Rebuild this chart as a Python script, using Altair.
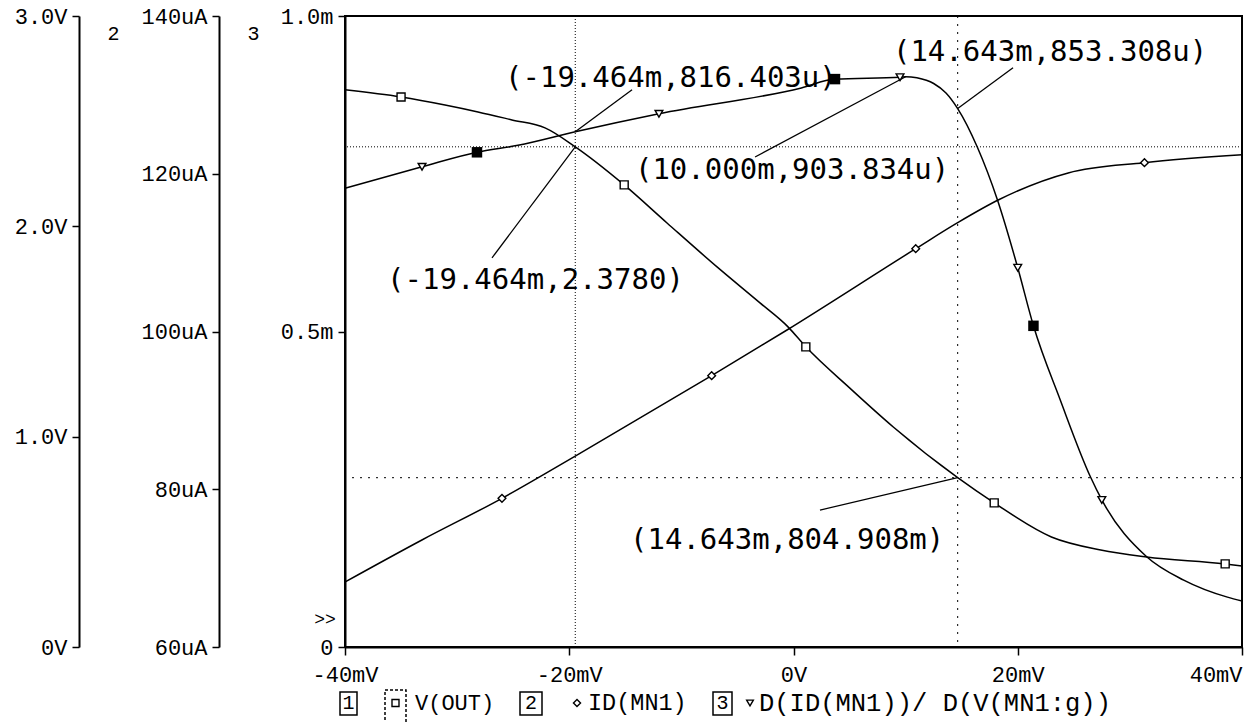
import altair as alt
import pandas as pd

# ---- sweep (gate voltage, mV) and the three traces ----
vout_x = [-40, -35.0, -31.08, -28.14, -25.11, -22.16, -19.464, -15.1, -11.28, -6.82, -2.99,
          -0.49, 1.1, 5.0, 8.9, 14.643, 17.9, 23.0, 27.4, 31.5, 38.5, 40]
vout_y = [2.649, 2.615, 2.577, 2.544, 2.506, 2.468, 2.378, 2.197, 2.016, 1.807, 1.636,
          1.522, 1.427, 1.232, 1.046, 0.8049, 0.685, 0.523, 0.461, 0.428, 0.395, 0.385]

id_x = [-40, -33.1, -26.0, -19.464, -7.3, -0.58, 10.9, 14.643, 18.3, 24.5, 31.3, 40]
id_y = [68.24, 73.6, 78.85, 84.2, 94.4, 100.19, 110.5, 113.8, 116.7, 120.1, 121.4, 122.4]

gm_x = [-40, -33.13, -28.23, -24.57, -19.464, -12.0, 0.7, 3.7, 9.5, 10.0, 11.0, 12.5, 13.6,
        14.643, 16.4, 18.2, 20.0, 21.4, 23.8, 26.5, 27.5, 31.5, 34.8, 38.7, 40]
gm_y = [0.727, 0.761, 0.784, 0.795, 0.8164, 0.845, 0.886, 0.900, 0.903, 0.9038, 0.902, 0.893,
        0.878, 0.8533, 0.792, 0.708, 0.601, 0.509, 0.391, 0.269, 0.233, 0.143, 0.106, 0.079, 0.073]

# trace symbols
vout_mk_x = [-35.0, -15.1, 1.1, 17.9, 38.5]
vout_mk_y = [2.615, 2.197, 1.427, 0.685, 0.395]
id_mk_x = [-26.0, -7.3, 10.9, 31.3]
id_mk_y = [78.85, 94.4, 110.5, 121.4]
gm_tri_x = [-33.13, -12.0, 9.5, 20.0, 27.5]
gm_tri_y = [0.761, 0.845, 0.903, 0.601, 0.233]
gm_sq_x = [-28.23, 3.7, 21.4]
gm_sq_y = [0.784, 0.900, 0.509]

# cursors
cursor_x = [-19.464, 14.643]
cursor_v = [2.378, 0.8049]

# cursor read-outs: text, text anchor, leader start, leader end
v_lbl_text = ["(-19.464m,2.3780)", "(14.643m,804.908m)"]
v_lbl_x = [-36.25, -14.58]
v_lbl_y = [1.745, 0.509]
v_lead_x = [-26.89, 2.36]
v_lead_y = [1.850, 0.651]
v_pt_x = [-19.464, 14.643]
v_pt_y = [2.378, 0.8049]

g_lbl_text = ["(-19.464m,816.403u)", "(10.000m,903.834u)", "(14.643m,853.308u)"]
g_lbl_x = [-25.73, -14.14, 8.87]
g_lbl_y = [0.902, 0.756, 0.943]
g_lead_x = [-14.40, -3.43, 19.58]
g_lead_y = [0.883, 0.7765, 0.918]
g_pt_x = [-19.464, 10.0, 14.643]
g_pt_y = [0.8164, 0.9038, 0.8533]

x_ticks = [-40, -20, 0, 20, 40]
v_ticks = [0, 1, 2, 3]
i_ticks = [60, 80, 100, 120, 140]
g_ticks = [0, 0.5, 1.0]

MONO = "Liberation Mono"
NOTE = "DejaVu Sans Mono"
INK = "black"

x_scale = alt.Scale(domain=[-40, 40], nice=False, zero=False)
v_scale = alt.Scale(domain=[0, 3], nice=False, zero=False)
i_scale = alt.Scale(domain=[60, 140], nice=False, zero=False)
g_scale = alt.Scale(domain=[0, 1.0], nice=False, zero=False)

# one shared x axis definition, given to every layer that encodes x
x_axis = alt.Axis(
    values=x_ticks, title=None,
    labelExpr="datum.value == 0 ? '0V' : datum.value + 'mV'",
    labelAlign={"condition": {"test": "datum.value == 40", "value": "right"}, "value": "center"},
    labelBaseline="middle", labelPadding=19, tickSize=8, tickWidth=1.5,
    domainWidth=2, labelFont=MONO, labelFontSize=22,
)


def y_axis(values, expr, offset, title=None, title_x=0):
    if title:
        kw = dict(title=title, titleAngle=0, titleX=title_x, titleY=17, titleAlign="center",
                  titleBaseline="middle", titleFont=MONO, titleFontSize=20,
                  titleFontWeight="normal", titleColor=INK)
    else:
        kw = dict(title=None)
    return alt.Axis(
        values=values, labelExpr=expr, orient="left", offset=offset,
        tickSize=7, tickWidth=1.5, domainWidth=2, labelPadding=5,
        labelFont=MONO, labelFontSize=22, labelBaseline="middle", **kw,
    )


axis_v = y_axis(v_ticks, "datum.value == 0 ? '0V' : format(datum.value, '.1f') + 'V'", 266)
axis_i = y_axis(i_ticks, "datum.value + 'uA'", 126, "2", -106)
axis_g = y_axis(g_ticks, "datum.value == 0 ? '0' : format(datum.value, '.1f') + 'm'", 0, "3", -92)


def X(field):
    return alt.X(f"{field}:Q", scale=x_scale, axis=x_axis)


def Y(field, scale, axis=None):
    return alt.Y(f"{field}:Q", scale=scale, axis=axis)


def curve(xs, ys, scale, axis):
    df = pd.DataFrame({"x": xs, "y": ys})
    return alt.Chart(df).mark_line(color=INK, strokeWidth=1.5, interpolate="monotone").encode(
        x=X("x"), y=Y("y", scale, axis))


def symbols(xs, ys, scale, shape, size, filled):
    df = pd.DataFrame({"x": xs, "y": ys})
    return alt.Chart(df).mark_point(
        shape=shape, size=size, filled=filled, color=INK, strokeWidth=1.4, opacity=1,
        fill=INK if filled else "white",
    ).encode(x=X("x"), y=Y("y", scale))


def readouts(texts, lx, ly, sx, sy, px, py, scale):
    lab = pd.DataFrame({"t": texts, "x": lx, "y": ly})
    lead = pd.DataFrame({"x": sx, "y": sy, "x2": px, "y2": py})
    rules = alt.Chart(lead).mark_rule(color=INK, strokeWidth=1.3).encode(
        x=X("x"), y=Y("y", scale), x2="x2:Q", y2="y2:Q")
    words = alt.Chart(lab).mark_text(
        align="left", baseline="middle", font=NOTE, fontSize=29, color=INK
    ).encode(x=X("x"), y=Y("y", scale), text="t:N")
    return rules, words


# ---- cursors ----
cur_df = pd.DataFrame({"x": cursor_x, "v": cursor_v, "dash": ["fine", "coarse"]})
dash_scale = alt.Scale(domain=["fine", "coarse"], range=[[1, 2], [2, 6]])
vrules = alt.Chart(cur_df).mark_rule(color=INK, strokeWidth=1).encode(
    x=X("x"), strokeDash=alt.StrokeDash("dash:N", scale=dash_scale, legend=None))
hrules = alt.Chart(cur_df).mark_rule(color=INK, strokeWidth=1).encode(
    y=Y("v", v_scale), strokeDash=alt.StrokeDash("dash:N", scale=dash_scale, legend=None))

v_lead, v_words = readouts(v_lbl_text, v_lbl_x, v_lbl_y, v_lead_x, v_lead_y, v_pt_x, v_pt_y, v_scale)
g_lead, g_words = readouts(g_lbl_text, g_lbl_x, g_lbl_y, g_lead_x, g_lead_y, g_pt_x, g_pt_y, g_scale)

# ---- trace legend row under the x axis ----
one = pd.DataFrame({"k": [0]})
LEG_Y = 687


def box(x0, x1, y0, y1, dash=None):
    kw = {"strokeDash": dash} if dash else {}
    return alt.Chart(one).mark_rect(filled=False, stroke=INK, strokeWidth=1.5, **kw).encode(
        x=alt.value(x0), x2=alt.value(x1), y=alt.value(y0), y2=alt.value(y1))


def word(t, x, align="left", size=22):
    return alt.Chart(one).mark_text(
        text=t, align=align, baseline="middle", font=MONO, fontSize=size, color=INK
    ).encode(x=alt.value(x), y=alt.value(LEG_Y))


def glyph(shape, x, size):
    return alt.Chart(one).mark_point(shape=shape, size=size, filled=False, color=INK,
                                     strokeWidth=1.4, opacity=1).encode(
        x=alt.value(x), y=alt.value(LEG_Y))


legend_parts = [
    box(-5, 12, 676, 699), word("1", 3.5, "center", 20),
    box(40, 61, 674, 708, [3, 2]), glyph("square", 50.5, 49), word("V(OUT)", 70),
    box(175, 197, 676, 699), word("2", 186, "center", 20),
    glyph("diamond", 232, 50), word("ID(MN1)", 243, size=23.5),
    box(368, 387, 676, 699), word("3", 377.5, "center", 20),
    glyph("triangle-down", 405, 45), word("D(ID(MN1))/ D(V(MN1:g))", 414, size=25.5),
    alt.Chart(one).mark_text(text=">>", align="center", baseline="middle", font=MONO,
                             fontSize=18, color=INK).encode(x=alt.value(-20), y=alt.value(604)),
]

chart = (
    alt.layer(
        vrules, hrules,
        curve(vout_x, vout_y, v_scale, axis_v),
        curve(id_x, id_y, i_scale, axis_i),
        curve(gm_x, gm_y, g_scale, axis_g),
        symbols(vout_mk_x, vout_mk_y, v_scale, "square", 64, False),
        symbols(id_mk_x, id_mk_y, i_scale, "diamond", 60, False),
        symbols(gm_tri_x, gm_tri_y, g_scale, "triangle-down", 60, False),
        symbols(gm_sq_x, gm_sq_y, g_scale, "square", 110, True),
        v_lead, v_words, g_lead, g_words,
        *legend_parts,
    )
    .resolve_scale(y="independent")
    .properties(
        width=897, height=631,
        autosize=alt.AutoSizeParams(type="none"),
        padding={"left": 345, "top": 16, "right": 14, "bottom": 75},
        background="white",
    )
    .configure_view(stroke=INK, strokeWidth=2)
    .configure_axis(grid=False, domainColor=INK, tickColor=INK, labelColor=INK)
)

chart.save("out.html", embed_options={"renderer": "svg", "actions": False})
